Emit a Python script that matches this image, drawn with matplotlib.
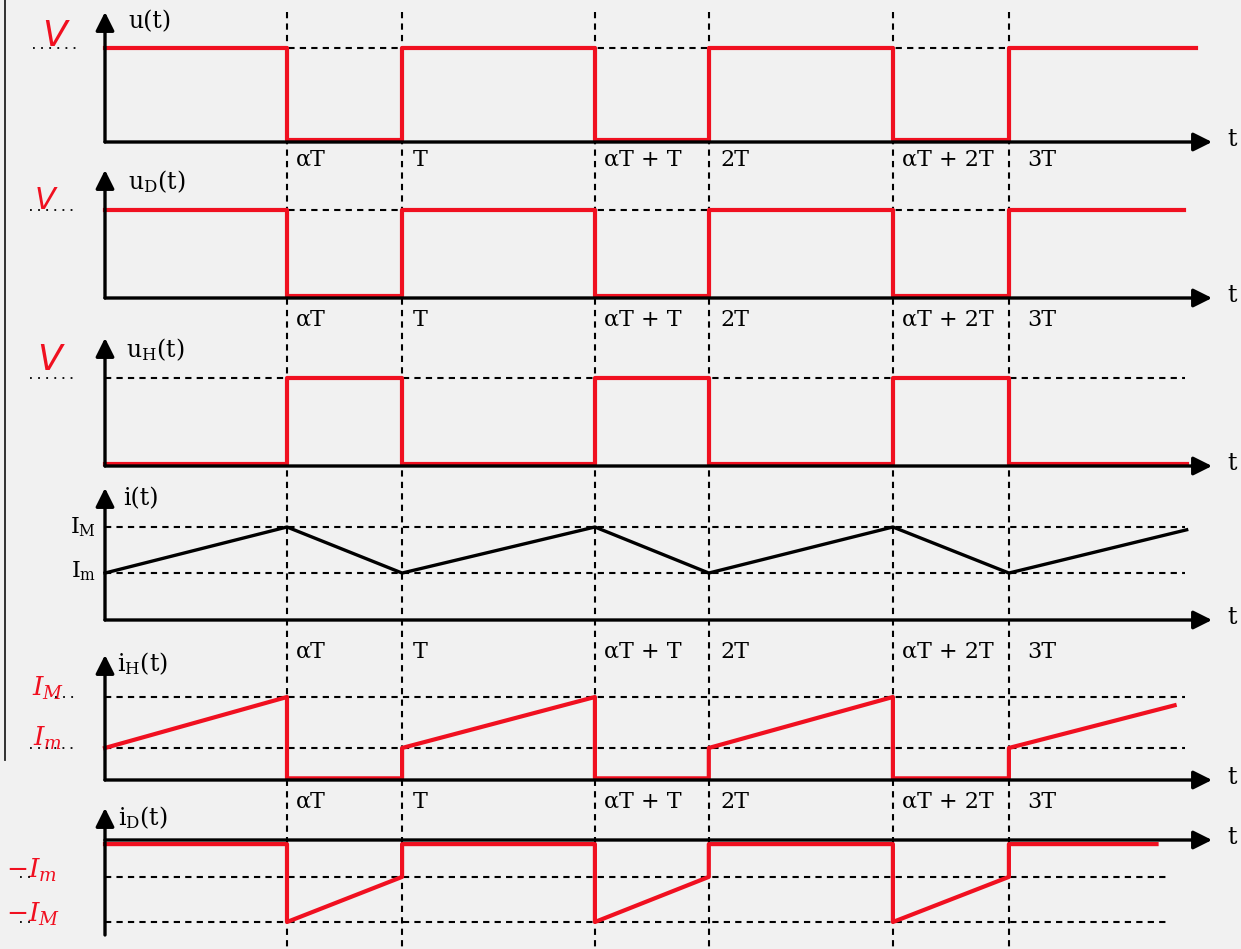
import matplotlib.pyplot as plt

plt.rcParams['mathtext.fontset'] = 'dejavuserif'

W, H = 1241, 949
X0, PX_T = 105, 301.3   # pixel of t=0 and pixels per period T


def px2t(px):
    return (px - X0) / PX_T


# switching instants (in units of T) and their labels
edges = [0.604, 0.986, 1.626, 2.004, 2.615, 3.0]
edge_labels = ['αT', 'T', 'αT + T', '2T', 'αT + 2T', '3T']
label_shift = [0.03, 0.035, 0.03, 0.04, 0.03, 0.06]

# u(t) and uD(t): V during the on-time, 0 otherwise
u_t = [0, 0.604, 0.604, 0.986, 0.986, 1.626, 1.626, 2.004, 2.004, 2.615, 2.615, 3.0, 3.0, 3.62]
u_v = [1, 1, 0.02, 0.02, 1, 1, 0.02, 0.02, 1, 1, 0.02, 0.02, 1, 1]
uD_t = [0, 0.604, 0.604, 0.986, 0.986, 1.626, 1.626, 2.004, 2.004, 2.615, 2.615, 3.0, 3.0, 3.58]
uD_v = [1, 1, 0.02, 0.02, 1, 1, 0.02, 0.02, 1, 1, 0.02, 0.02, 1, 1]
# uH(t): complementary
uH_t = [0, 0.604, 0.604, 0.986, 0.986, 1.626, 1.626, 2.004, 2.004, 2.615, 2.615, 3.0, 3.0, 3.59]
uH_v = [0.02, 0.02, 1, 1, 0.02, 0.02, 1, 1, 0.02, 0.02, 1, 1, 0.02, 0.02]
# i(t): triangle between Im and IM (IM = 1)
i_Im = 0.505
i_t = [0, 0.604, 0.986, 1.626, 2.004, 2.615, 3.0, 3.59]
i_v = [i_Im, 1, i_Im, 1, i_Im, 1, i_Im, 0.97]
# iH(t)
iH_Im = 0.386
iH_t = [0, 0.604, 0.604, 0.986, 0.986, 1.626, 1.626, 2.004, 2.004, 2.615, 2.615, 3.0, 3.0, 3.55]
iH_v = [iH_Im, 1, 0.02, 0.02, iH_Im, 1, 0.02, 0.02, iH_Im, 1, 0.02, 0.02, iH_Im, 0.9]
# iD(t)
iD_Im = 0.45
iD_t = [0, 0.604, 0.604, 0.986, 0.986, 1.626, 1.626, 2.004, 2.004, 2.615, 2.615, 3.0, 3.0, 3.49]
iD_v = [-0.05, -0.05, -1, -iD_Im, -0.05, -0.05, -1, -iD_Im, -0.05, -0.05, -1, -iD_Im, -0.05, -0.05]

RED = '#f01020'
SERIF = 'DejaVu Serif'
RED_LW = 3.0

fig = plt.figure(figsize=(W / 100, H / 100), dpi=100, facecolor='#f1f1f1')

# background axes in pixel rows, used for guides and text
bg = fig.add_axes([0, 0, 1, 1])
bg.set_xlim(px2t(0), px2t(W))
bg.set_ylim(H, 0)
bg.axis('off')
for e in edges:
    bg.plot([e, e], [12, H], color='k', lw=1.5, ls=(0, (3, 2.5)))
bg.plot([px2t(5), px2t(5)], [0, 760], color='#222222', lw=1.3)


def panel(base, unit, top, bottom, x_end=1212):
    ax = fig.add_axes([0, 0, 1, 1])
    ax.set_xlim(px2t(0), px2t(W))
    ax.set_ylim((base - H) / unit, base / unit)
    ax.axis('off')
    ax.patch.set_alpha(0)
    arrow = dict(arrowstyle='-|>', color='k', lw=2.4, mutation_scale=28,
                 shrinkA=0, shrinkB=0)
    ax.annotate('', xy=(px2t(x_end), 0), xytext=(0, 0), arrowprops=arrow)
    ax.annotate('', xy=(0, (base - top) / unit), xytext=(0, (base - bottom) / unit),
                arrowprops=arrow)
    bg.text(px2t(x_end + 15), base - 3, 't', fontsize=17, family=SERIF,
            ha='left', va='center')
    return ax


def hlevel(ax, v, x_end):
    ax.plot([0, px2t(x_end)], [v, v], color='k', lw=1.5, ls=(0, (3, 2.5)))


def dots(ax, v, x_a, x_b):
    ax.plot([px2t(x_a), px2t(x_b)], [v, v], color='k', lw=1.3, ls=(0, (1, 3.5)))


def tick_row(y):
    for e, lab, s in zip(edges, edge_labels, label_shift):
        bg.text(e + s, y, lab, fontsize=16, family=SERIF, ha='left', va='center')


# u(t)
ax1 = panel(142, 94, 12, 142)
hlevel(ax1, 1, 1195)
dots(ax1, 1, 33, 76)
ax1.plot(u_t, u_v, color=RED, lw=RED_LW)
bg.text(px2t(128), 22, 'u(t)', fontsize=17, family=SERIF, ha='left', va='center')
bg.text(px2t(55), 36, 'V', fontsize=26, color=RED, ha='center', va='center',
        style='italic')
tick_row(160)

# uD(t)
ax2 = panel(298, 88, 170, 298)
hlevel(ax2, 1, 1183)
dots(ax2, 1, 30, 73)
ax2.plot(uD_t, uD_v, color=RED, lw=RED_LW)
bg.text(px2t(128), 182, r'u$_{\mathrm{D}}$(t)', fontsize=17, family=SERIF,
        ha='left', va='center')
bg.text(px2t(45), 200, 'V', fontsize=22, color=RED, ha='center', va='center',
        style='italic')
tick_row(320)

# uH(t)
ax3 = panel(466, 88, 338, 466)
hlevel(ax3, 1, 1185)
dots(ax3, 1, 30, 73)
ax3.plot(uH_t, uH_v, color=RED, lw=RED_LW)
bg.text(px2t(126), 350, r'u$_{\mathrm{H}}$(t)', fontsize=17, family=SERIF,
        ha='left', va='center')
bg.text(px2t(50), 360, 'V', fontsize=26, color=RED, ha='center', va='center',
        style='italic')

# i(t)
ax4 = panel(620, 93, 488, 620)
hlevel(ax4, 1, 1185)
hlevel(ax4, i_Im, 1185)
ax4.plot(i_t, i_v, color='k', lw=2.4)
bg.text(px2t(123), 499, 'i(t)', fontsize=17, family=SERIF, ha='left', va='center')
bg.text(px2t(96), 527, r'I$_{\mathrm{M}}$', fontsize=16, family=SERIF,
        ha='right', va='center')
bg.text(px2t(96), 571, r'I$_{\mathrm{m}}$', fontsize=16, family=SERIF,
        ha='right', va='center')
tick_row(652)

# iH(t)
ax5 = panel(780, 83, 655, 780)
hlevel(ax5, 1, 1185)
hlevel(ax5, iH_Im, 1185)
dots(ax5, 1, 55, 76)
dots(ax5, iH_Im, 30, 76)
ax5.plot(iH_t, iH_v, color=RED, lw=RED_LW)
bg.text(px2t(117), 664, r'i$_{\mathrm{H}}$(t)', fontsize=17, family=SERIF,
        ha='left', va='center')
bg.text(px2t(48), 688, r'$\mathit{I_M}$', fontsize=19, color=RED, ha='center',
        va='center')
bg.text(px2t(48), 738, r'$\mathit{I_m}$', fontsize=19, color=RED, ha='center',
        va='center')
tick_row(802)

# iD(t)
ax6 = panel(840, 82, 808, 935)
hlevel(ax6, -iD_Im, 1168)
hlevel(ax6, -1, 1168)
dots(ax6, -iD_Im, 20, 36)
dots(ax6, -1, 20, 36)
ax6.plot(iD_t, iD_v, color=RED, lw=RED_LW)
bg.text(px2t(118), 818, r'i$_{\mathrm{D}}$(t)', fontsize=17, family=SERIF,
        ha='left', va='center')
bg.text(px2t(6), 870, r'$-\mathit{I_m}$', fontsize=19, color=RED, ha='left',
        va='center')
bg.text(px2t(6), 914, r'$-\mathit{I_M}$', fontsize=19, color=RED, ha='left',
        va='center')

fig.savefig('out.png', dpi=100, facecolor=fig.get_facecolor())
